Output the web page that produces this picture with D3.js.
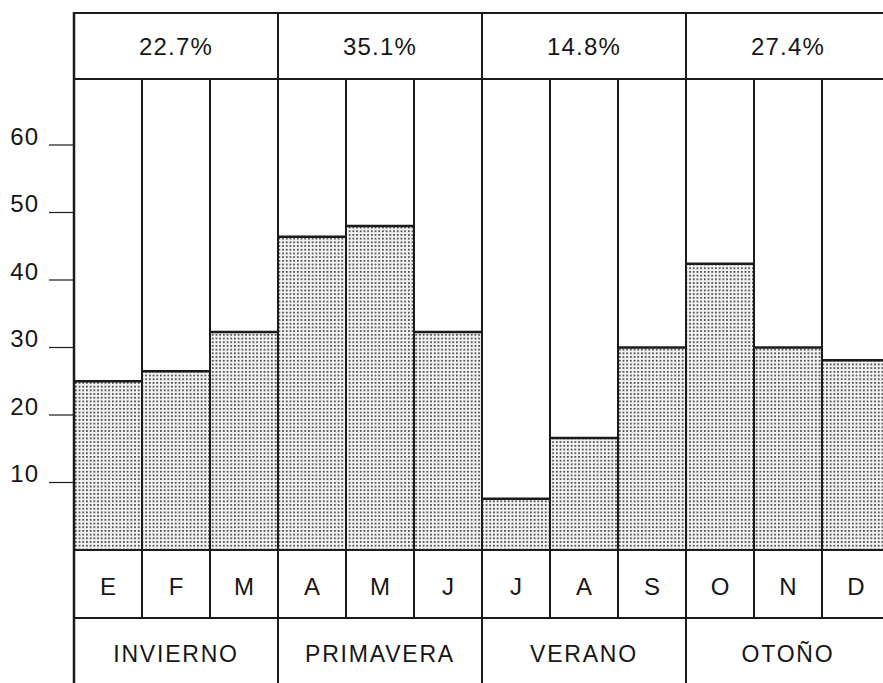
<!DOCTYPE html>
<html>
<head>
<meta charset="utf-8">
<script src="https://cdn.jsdelivr.net/npm/d3@7/dist/d3.min.js"></script>
<style>
  html, body { margin: 0; padding: 0; background: #fff; }
  svg { display: block; }
  text { font-family: "Liberation Sans", Arial, Helvetica, sans-serif; fill: #161616; }
</style>
</head>
<body>
<svg id="chart" width="883" height="683"></svg>
<script>
// ---- data ----
const months = ["E", "F", "M", "A", "M", "J", "J", "A", "S", "O", "N", "D"];
const values = [25.0, 26.5, 32.3, 46.4, 48.0, 32.3, 7.6, 16.6, 30.0, 42.4, 30.0, 28.1];
const seasons = ["INVIERNO", "PRIMAVERA", "VERANO", "OTOÑO"];
const seasonPct = ["22.7%", "35.1%", "14.8%", "27.4%"];
const yTicks = [10, 20, 30, 40, 50, 60];

// ---- layout ----
const left = 74, right = 890;
const topLine = 13, plotTop = 79, base = 550, monthBottom = 618, bottom = 690;
const ink = "#1b1b1b";

const svg = d3.select("#chart");
const idx = d3.range(months.length);

const x = d3.scaleBand().domain(idx).range([left, right]).paddingInner(0).paddingOuter(0);
const xs = d3.scaleBand().domain(d3.range(seasons.length)).range([left, right]);
const y = d3.scaleLinear().domain([0, 70]).range([base, 77.5]);

// stipple pattern
const defs = svg.append("defs");
const pat = defs.append("pattern")
  .attr("id", "dots").attr("patternUnits", "userSpaceOnUse")
  .attr("width", 3.7).attr("height", 3.7);
pat.append("rect").attr("width", 3.7).attr("height", 3.7).attr("fill", "#f2f2f2");
pat.append("rect").attr("x", 1).attr("y", 1).attr("width", 1.6).attr("height", 1.6).attr("fill", "#2a2a2a");

// bars (stippled fill)
svg.append("g").selectAll("rect").data(idx).join("rect")
  .attr("x", i => x(i))
  .attr("y", i => y(values[i]))
  .attr("width", x.bandwidth())
  .attr("height", i => base - y(values[i]))
  .attr("fill", "url(#dots)");

// bar top lines
svg.append("g").selectAll("line").data(idx).join("line")
  .attr("x1", i => x(i)).attr("x2", i => x(i) + x.bandwidth())
  .attr("y1", i => y(values[i])).attr("y2", i => y(values[i]))
  .attr("stroke", ink).attr("stroke-width", 2.5);

const grid = svg.append("g").attr("stroke", ink).attr("fill", "none");

// horizontal rules
[topLine, plotTop, base, monthBottom].forEach(yy => {
  grid.append("line").attr("x1", left).attr("x2", right)
    .attr("y1", yy).attr("y2", yy).attr("stroke-width", 2);
});

// month vertical lines (plot area + month row)
idx.forEach(i => {
  grid.append("line").attr("x1", x(i)).attr("x2", x(i))
    .attr("y1", plotTop).attr("y2", monthBottom).attr("stroke-width", 2);
});
// season vertical lines (header + season row)
d3.range(seasons.length + 1).forEach(s => {
  const xx = s < seasons.length ? xs(s) : right;
  grid.append("line").attr("x1", xx).attr("x2", xx)
    .attr("y1", topLine).attr("y2", plotTop).attr("stroke-width", 2);
  grid.append("line").attr("x1", xx).attr("x2", xx)
    .attr("y1", monthBottom).attr("y2", bottom).attr("stroke-width", 2);
});
// left border full height
grid.append("line").attr("x1", left).attr("x2", left)
  .attr("y1", topLine - 1).attr("y2", bottom).attr("stroke-width", 2.5);

// y axis ticks
const yAxis = svg.append("g");
yTicks.forEach(t => {
  yAxis.append("line").attr("x1", 49).attr("x2", left)
    .attr("y1", y(t)).attr("y2", y(t))
    .attr("stroke", ink).attr("stroke-width", 1.2);
  yAxis.append("text").attr("x", 39).attr("y", y(t) - 0.5)
    .attr("text-anchor", "end")
    .attr("font-size", 24).attr("letter-spacing", 1)
    .text(t);
});

// header percentages
svg.append("g").selectAll("text").data(seasonPct).join("text")
  .attr("x", (d, s) => xs(s) + xs.bandwidth() / 2)
  .attr("y", 55)
  .attr("text-anchor", "middle")
  .attr("font-size", 24).attr("letter-spacing", 1.2)
  .text(d => d);

// month labels
svg.append("g").selectAll("text").data(idx).join("text")
  .attr("x", i => x(i) + x.bandwidth() / 2)
  .attr("y", 595)
  .attr("text-anchor", "middle")
  .attr("font-size", 24)
  .text(i => months[i]);

// season labels
svg.append("g").selectAll("text").data(seasons).join("text")
  .attr("x", (d, s) => xs(s) + xs.bandwidth() / 2)
  .attr("y", 662)
  .attr("text-anchor", "middle")
  .attr("font-size", 23).attr("letter-spacing", 1.8)
  .text(d => d);
</script>
</body>
</html>
